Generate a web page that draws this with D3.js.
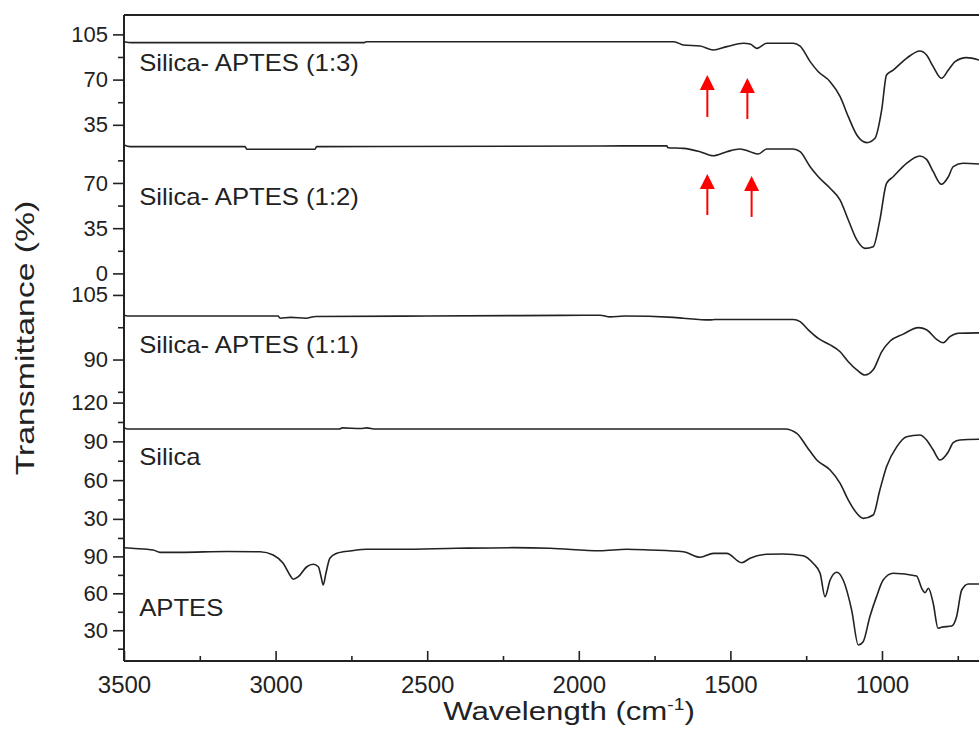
<!DOCTYPE html>
<html lang="en">
<head>
<meta charset="UTF-8">
<title>FTIR spectra - Silica / APTES</title>
<script src="https://d3js.org/d3.v7.min.js"></script>
<style>
  body { margin: 0; background: #fff; }
  svg { display: block; font-family: "Liberation Sans", Arial, sans-serif; }
  .axis text { fill: #222; }
  .axis line, .axis path { stroke: #222; stroke-width: 1.6; }
  .spine { stroke: #222; stroke-width: 2; }
  .spectrum { fill: none; stroke: #222; stroke-width: 1.6; stroke-linejoin: round; }
  .label { fill: #222; }
</style>
</head>
<body>
<div id="chart"></div>
<script>
// panels, top to bottom
const names = ['Silica- APTES (1:3)', 'Silica- APTES (1:2)', 'Silica- APTES (1:1)', 'Silica', 'APTES'];
const domains = [[20, 120], [0, 100], [80, 110], [20, 120], [5, 110]];
const yMajor = [[35, 70, 105], [0, 35, 70], [90, 105], [30, 60, 90, 120], [30, 60, 90]];
const yMinor = [[52.5, 87.5], [17.5, 52.5, 87.5], [82.5, 97.5], [45, 75, 105], [15, 45, 75, 105]];

const xMajor = [3500, 3000, 2500, 2000, 1500, 1000];
const xMinor = [3250, 2750, 2250, 1750, 1250, 750];

// spectra (wavenumber cm-1, transmittance %)
const wn13 = [3500, 3475, 2710, 2700, 1686, 1655, 1600, 1556, 1512, 1457, 1435, 1413, 1380, 1293, 1270, 1237, 1210, 1171, 1138, 1111, 1083, 1050, 1023, 1001, 985, 963, 919, 875, 853, 831, 804, 781, 759, 721, 680];
const t13 = [99.3, 98.6, 98.6, 99.3, 99.3, 96.8, 96.0, 92.9, 95.5, 98.1, 97.6, 94.2, 98.1, 98.1, 96.0, 83.9, 76.1, 68.4, 56.8, 41.3, 27.1, 21.2, 24.6, 46.5, 73.6, 77.4, 86.5, 92.1, 89.0, 80.0, 71.0, 77.4, 83.9, 87.0, 85.2];

const wn12 = [3500, 3480, 3101, 3095, 2870, 2865, 1930, 1710, 1706, 1655, 1600, 1556, 1512, 1468, 1435, 1408, 1380, 1293, 1270, 1237, 1210, 1171, 1138, 1111, 1083, 1056, 1029, 1007, 985, 963, 919, 875, 853, 831, 804, 781, 765, 732, 680];
const t12 = [99.4, 98.1, 98.1, 96.1, 96.1, 98.1, 98.6, 98.8, 97.3, 96.8, 94.2, 91.1, 94.2, 96.3, 94.2, 92.4, 96.3, 96.3, 94.2, 82.6, 74.8, 65.9, 56.8, 41.3, 25.9, 19.4, 20.7, 41.3, 69.7, 74.8, 85.2, 90.9, 88.3, 78.7, 69.0, 74.8, 82.6, 85.2, 84.7];

const wn11 = [3500, 3480, 2992, 2985, 2950, 2900, 2868, 2500, 2200, 1930, 1897, 1850, 1688, 1655, 1567, 1551, 1413, 1293, 1270, 1243, 1210, 1171, 1138, 1111, 1083, 1056, 1029, 1001, 973, 930, 880, 853, 820, 798, 776, 748, 680];
const t11 = [100.3, 100.1, 100.1, 99.6, 99.8, 99.6, 100.0, 100.1, 100.2, 100.3, 99.9, 100.1, 99.8, 99.6, 99.2, 99.3, 99.3, 99.3, 98.8, 96.9, 94.9, 93.4, 91.8, 89.5, 87.6, 86.4, 87.6, 91.8, 94.3, 95.9, 97.4, 96.9, 94.7, 93.9, 95.3, 96.1, 96.2];

const wnSi = [3500, 3490, 2790, 2780, 2720, 2700, 2670, 1320, 1281, 1248, 1215, 1171, 1138, 1111, 1083, 1062, 1029, 1007, 985, 951, 919, 875, 853, 831, 809, 781, 765, 743, 680];
const tSi = [100.6, 99.6, 99.6, 100.4, 100.0, 100.4, 99.6, 99.6, 96.2, 85.9, 75.6, 67.8, 57.5, 44.6, 34.3, 30.4, 33.0, 52.4, 70.4, 85.9, 93.6, 94.9, 91.1, 83.3, 75.6, 82.0, 89.0, 91.1, 91.6];

const wnAp = [3500, 3475, 3404, 3381, 3315, 3161, 3051, 3008, 2975, 2952, 2942, 2925, 2897, 2876, 2859, 2850, 2843, 2834, 2821, 2798, 2777, 2755, 2700, 2590, 2403, 2216, 2095, 1930, 1842, 1765, 1655, 1600, 1556, 1512, 1463, 1435, 1380, 1325, 1260, 1227, 1204, 1188, 1171, 1149, 1128, 1100, 1078, 1062, 1040, 1018, 996, 963, 886, 869, 858, 847, 831, 815, 804, 770, 754, 737, 715, 680];
const tAp = [97.1, 96.6, 95.2, 93.3, 93.3, 94.0, 93.8, 91.1, 84.4, 74.5, 71.4, 73.5, 81.6, 83.6, 81.6, 73.5, 66.8, 76.3, 88.5, 92.5, 93.8, 94.4, 95.8, 95.8, 96.6, 97.1, 96.6, 94.6, 95.8, 95.2, 93.8, 89.3, 92.5, 92.5, 84.9, 88.5, 91.7, 92.0, 90.6, 84.4, 76.3, 57.3, 70.8, 77.1, 70.8, 46.4, 18.0, 20.7, 41.0, 57.3, 70.8, 76.3, 74.1, 64.1, 60.5, 64.1, 51.9, 31.6, 32.4, 33.4, 41.0, 62.7, 67.6, 67.6];

const spectraWn = [wn13, wn12, wn11, wnSi, wnAp];
const spectraT = [t13, t12, t11, tSi, tAp];

// label anchor per panel (wavenumber, transmittance)
const labelWn = 3450;
const labelT = [76.7, 52.9, 91.5, 71.7, 41.6];

// red arrows (panel index, wavenumber, tail value, tip value)
const arrowPanel = [0, 0, 1, 1];
const arrowWn = [1576, 1444, 1576, 1430];
const arrowTail = [41.1, 39.5, 45.2, 43.7];
const arrowTip = [73.6, 71.2, 76.9, 75.4];

const width = 979, height = 740;
const margin = { top: 15, left: 124, bottom: 79 };
const plotBottom = height - margin.bottom;
const panelH = (plotBottom - margin.top) / names.length;

const svg = d3.select('#chart').append('svg')
    .attr('width', width)
    .attr('height', height);

const x = d3.scaleLinear().domain([3500, 680]).range([margin.left, width]);

const yScales = domains.map((d, i) => d3.scaleLinear()
    .domain(d)
    .range([margin.top + (i + 1) * panelH, margin.top + i * panelH]));

// y axes, one per panel
yScales.forEach((y, i) => {
    svg.append('g')
        .attr('class', 'axis')
        .attr('transform', `translate(${margin.left},0)`)
        .call(d3.axisLeft(y).tickValues(yMinor[i]).tickSize(6).tickFormat(''))
        .call(g => g.select('.domain').remove());
    svg.append('g')
        .attr('class', 'axis')
        .attr('transform', `translate(${margin.left},0)`)
        .call(d3.axisLeft(y).tickValues(yMajor[i]).tickSize(11).tickPadding(5).tickFormat(d3.format('d')))
        .call(g => g.select('.domain').remove())
        .call(g => g.selectAll('text').style('font-size', '22px'));
});

// x axis, ticks pointing inward
svg.append('g')
    .attr('class', 'axis')
    .attr('transform', `translate(0,${plotBottom})`)
    .call(d3.axisBottom(x).tickValues(xMinor).tickSize(-5).tickFormat(''))
    .call(g => g.select('.domain').remove());
svg.append('g')
    .attr('class', 'axis')
    .attr('transform', `translate(0,${plotBottom})`)
    .call(d3.axisBottom(x).tickValues(xMajor).tickSize(-10).tickPadding(15).tickFormat(d3.format('d')))
    .call(g => g.select('.domain').remove())
    .call(g => g.selectAll('text').style('font-size', '24px'));

// frame
svg.append('line').attr('class', 'spine')
    .attr('x1', margin.left).attr('x2', margin.left)
    .attr('y1', margin.top).attr('y2', plotBottom);
svg.append('line').attr('class', 'spine')
    .attr('x1', margin.left).attr('x2', width)
    .attr('y1', plotBottom).attr('y2', plotBottom);
svg.append('line').attr('class', 'spine')
    .attr('x1', margin.left).attr('x2', width)
    .attr('y1', margin.top).attr('y2', margin.top);

// spectra
spectraWn.forEach((wns, i) => {
    const line = d3.line()
        .curve(d3.curveMonotoneX)
        .x(d => x(d))
        .y((d, k) => yScales[i](spectraT[i][k]));
    svg.append('path')
        .datum(wns)
        .attr('class', 'spectrum')
        .attr('d', line);
});

// sample labels
names.forEach((name, i) => {
    svg.append('g')
        .attr('transform', `translate(${x(labelWn)},${yScales[i](labelT[i])}) scale(1.07,1)`)
        .append('text')
        .attr('class', 'label')
        .style('font-size', '24px')
        .text(name);
});

// red arrows
arrowWn.forEach((wn, i) => {
    const y = yScales[arrowPanel[i]];
    const ax = x(wn), tipY = y(arrowTip[i]), tailY = y(arrowTail[i]);
    svg.append('line')
        .attr('x1', ax).attr('x2', ax)
        .attr('y1', tailY).attr('y2', tipY + 12)
        .attr('stroke', '#ff0000')
        .attr('stroke-width', 2);
    svg.append('path')
        .attr('d', `M${ax},${tipY} L${ax - 7.5},${tipY + 15} L${ax + 7.5},${tipY + 15} Z`)
        .attr('fill', '#ff0000');
});

// axis titles
const xTitle = svg.append('g')
    .attr('transform', `translate(569,720) scale(1.2,1)`)
    .append('text')
    .attr('class', 'label')
    .attr('text-anchor', 'middle')
    .style('font-size', '26px');
xTitle.append('tspan').text('Wavelength (cm');
xTitle.append('tspan').attr('dy', '-10').style('font-size', '16px').text('-1');
xTitle.append('tspan').attr('dy', '10').text(')');

svg.append('g')
    .attr('transform', `translate(34,${(margin.top + plotBottom) / 2}) rotate(-90) scale(1.3,1)`)
    .append('text')
    .attr('class', 'label')
    .attr('text-anchor', 'middle')
    .style('font-size', '26px')
    .text('Transmittance (%)');
</script>
</body>
</html>
